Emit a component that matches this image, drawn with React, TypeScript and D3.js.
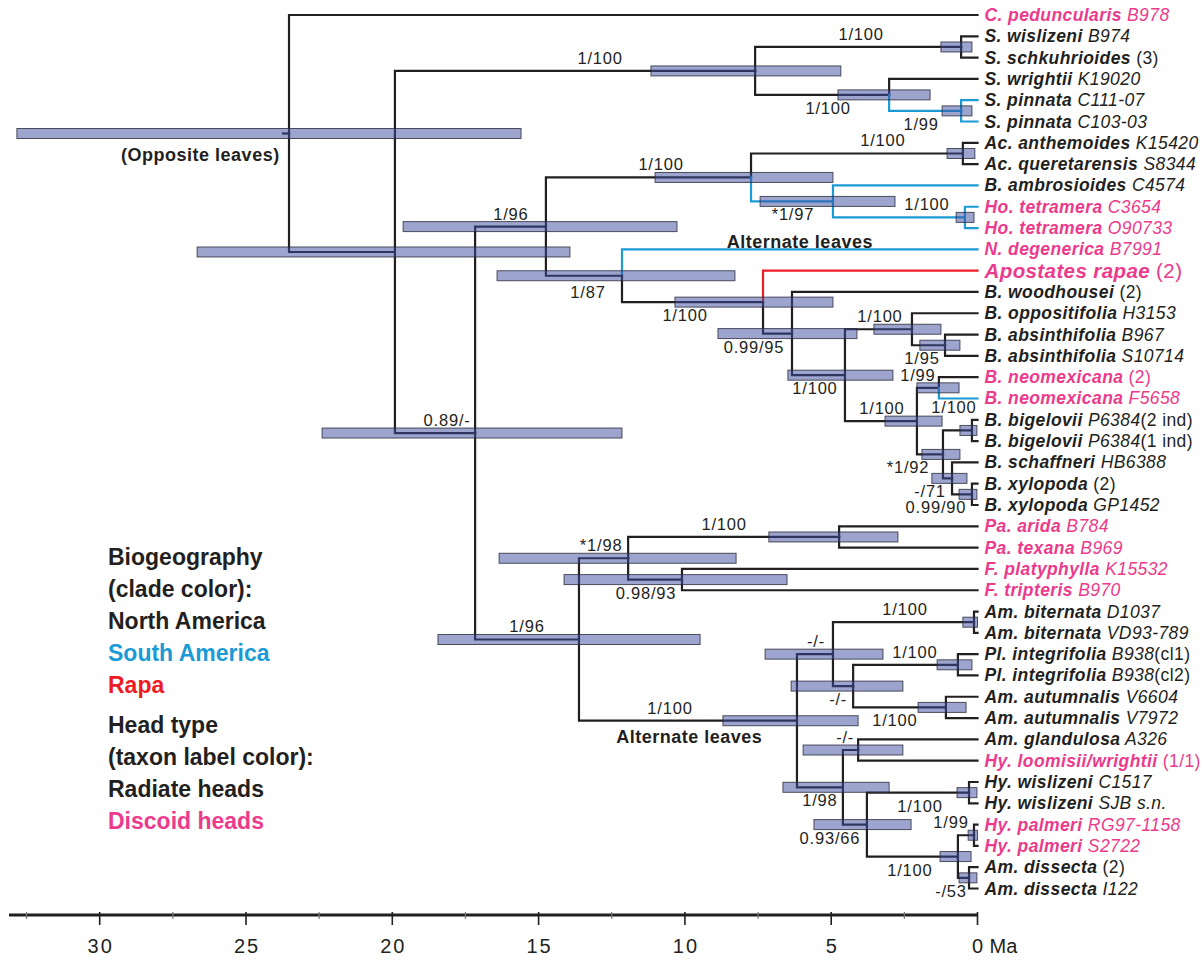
import React from 'react';
import * as d3 from 'd3';

// tips, top to bottom
const tipNames = [
  'C. peduncularis', 'S. wislizeni', 'S. schkuhrioides', 'S. wrightii', 'S. pinnata', 'S. pinnata',
  'Ac. anthemoides', 'Ac. queretarensis', 'B. ambrosioides', 'Ho. tetramera', 'Ho. tetramera',
  'N. degenerica', 'Apostates rapae', 'B. woodhousei', 'B. oppositifolia', 'B. absinthifolia',
  'B. absinthifolia', 'B. neomexicana', 'B. neomexicana', 'B. bigelovii', 'B. bigelovii',
  'B. schaffneri', 'B. xylopoda', 'B. xylopoda', 'Pa. arida', 'Pa. texana', 'F. platyphylla',
  'F. tripteris', 'Am. biternata', 'Am. biternata', 'Pl. integrifolia', 'Pl. integrifolia',
  'Am. autumnalis', 'Am. autumnalis', 'Am. glandulosa', 'Hy. loomisii/wrightii', 'Hy. wislizeni',
  'Hy. wislizeni', 'Hy. palmeri', 'Hy. palmeri', 'Am. dissecta', 'Am. dissecta',
];
const tipCodes = [
  'B978', 'B974', '', 'K19020', 'C111-07', 'C103-03', 'K15420', 'S8344', 'C4574', 'C3654', 'O90733',
  'B7991', '', '', 'H3153', 'B967', 'S10714', '', 'F5658', 'P6384', 'P6384', 'HB6388', '', 'GP1452',
  'B784', 'B969', 'K15532', 'B970', 'D1037', 'VD93-789', 'B938', 'B938', 'V6604', 'V7972', 'A326',
  '', 'C1517', 'SJB s.n.', 'RG97-1158', 'S2722', '', 'I122',
];
const tipNotes = [
  '', '', '(3)', '', '', '', '', '', '', '', '', '', '(2)', '(2)', '', '', '', '(2)', '', '(2 ind)',
  '(1 ind)', '', '(2)', '', '', '', '', '', '', '', '(cl1)', '(cl2)', '', '', '', '(1/1)', '', '', '',
  '', '(2)', '',
];
const discoidTips = [0, 9, 10, 11, 12, 17, 18, 24, 25, 26, 27, 35, 38, 39];

// internal nodes: id, children, age (Ma), 95% HPD old, young
const cladeNodes: [string, string[], number, number, number][] = [
  ['root', ['t0', 'N1'], 23.53, 32.83, 15.6],
  ['N1', ['S', 'N2'], 19.91, 26.67, 13.93],
  ['S', ['Sa', 'Sb'], 7.6, 11.16, 4.67],
  ['Sa', ['t1', 't2'], 0.56, 1.25, 0.19],
  ['Sb', ['t3', 'Sc'], 3.02, 4.77, 1.62],
  ['Sc', ['t4', 't5'], 0.56, 1.21, 0.19],
  ['N2', ['N3', 'N4'], 17.17, 22.4, 12.15],
  ['N3', ['AcB', 'N5'], 14.75, 19.63, 10.27],
  ['AcB', ['Ac', 'Bh'], 7.74, 11.02, 4.94],
  ['Ac', ['t6', 't7'], 0.5, 1.04, 0.09],
  ['Bh', ['t8', 'Ho'], 4.94, 7.43, 2.82],
  ['Ho', ['t9', 't10'], 0.43, 0.73, 0.12],
  ['N5', ['t11', 'N6'], 12.15, 16.42, 8.29],
  ['N6', ['t12', 'N7'], 7.33, 10.34, 4.94],
  ['N7', ['t13', 'N8'], 6.34, 8.87, 4.12],
  ['N8', ['N9', 'N10'], 4.53, 6.48, 2.89],
  ['N9', ['t14', 'N11'], 2.24, 3.54, 1.25],
  ['N11', ['t15', 't16'], 1.11, 1.97, 0.6],
  ['N10', ['N12', 'N13'], 2.07, 3.16, 1.21],
  ['N12', ['t17', 't18'], 1.32, 2.07, 0.63],
  ['N13', ['N14', 'N15'], 1.18, 1.9, 0.6],
  ['N14', ['t19', 't20'], 0.19, 0.6, 0.02],
  ['N15', ['t21', 'N16'], 0.87, 1.56, 0.36],
  ['N16', ['t22', 't23'], 0.19, 0.63, 0.02],
  ['N4', ['PF', 'AM'], 13.62, 18.44, 9.48],
  ['PF', ['Pa', 'F'], 11.94, 16.35, 8.25],
  ['Pa', ['t24', 't25'], 4.73, 7.13, 2.72],
  ['F', ['t26', 't27'], 10.1, 14.13, 6.51],
  ['AM', ['AM1', 'AM2'], 6.17, 8.7, 4.08],
  ['AM1', ['Amb', 'AM6'], 4.94, 7.26, 3.23],
  ['Amb', ['t28', 't29'], 0.12, 0.5, 0.0],
  ['AM6', ['Pl', 'Amaut'], 4.25, 6.37, 2.55],
  ['Pl', ['t30', 't31'], 0.67, 1.38, 0.19],
  ['Amaut', ['t32', 't33'], 1.08, 2.03, 0.39],
  ['AM2', ['AM3', 'AM4'], 4.6, 6.65, 3.02],
  ['AM3', ['t34', 't35'], 4.08, 5.96, 2.55],
  ['AM4', ['Hyw', 'AM5'], 3.78, 5.59, 2.27],
  ['Hyw', ['t36', 't37'], 0.29, 0.7, 0.02],
  ['AM5', ['Hyp', 'Amd'], 0.67, 1.28, 0.22],
  ['Hyp', ['t38', 't39'], 0.12, 0.32, 0.0],
  ['Amd', ['t40', 't41'], 0.29, 0.63, 0.02],
];

// posterior probability / bootstrap
const supports: [string, string][] = [
  ['S', '1/100'], ['Sa', '1/100'], ['Sb', '1/100'], ['Sc', '1/99'], ['N2', '0.89/-'], ['N3', '1/96'],
  ['AcB', '1/100'], ['Ac', '1/100'], ['Bh', '*1/97'], ['Ho', '1/100'], ['N5', '1/87'], ['N6', '1/100'],
  ['N7', '0.99/95'], ['N8', '1/100'], ['N9', '1/100'], ['N11', '1/95'], ['N10', '1/100'], ['N12', '1/99'],
  ['N13', '*1/92'], ['N14', '1/100'], ['N15', '-/71'], ['N16', '0.99/90'], ['N4', '1/96'], ['PF', '*1/98'],
  ['Pa', '1/100'], ['F', '0.98/93'], ['AM', '1/100'], ['AM1', '-/-'], ['Amb', '1/100'], ['AM6', '-/-'],
  ['Pl', '1/100'], ['Amaut', '1/100'], ['AM2', '1/98'], ['AM3', '-/-'], ['AM4', '0.93/66'], ['Hyw', '1/100'],
  ['AM5', '1/100'], ['Hyp', '1/99'], ['Amd', '-/53'],
];

const southAmerica = ['Sc', 't4', 't5', 'Bh', 't8', 'Ho', 't9', 't10', 't11', 't18'];
const rapa = ['t12'];

// leaf-type annotations: text, age (Ma), row
const annotations: [string, number, number, string][] = [
  ['(Opposite leaves)', 23.85, 6.85, 'end'],
  ['Alternate leaves', 6.07, 10.93, 'middle'],
  ['Alternate leaves', 9.85, 34.15, 'middle'],
];

const majorTicks = [0, 5, 10, 15, 20, 25, 30];
const minorTicks = [2.5, 7.5, 12.5, 17.5, 22.5, 27.5, 32.5];

const legendGroups = [
  ['Biogeography', '(clade color):', 'North America', 'South America', 'Rapa'],
  ['Head type', '(taxon label color):', 'Radiate heads', 'Discoid heads'],
];

// label placement: above/below branch, horizontal shift from node (px)
const place: Record<string, [string, number, number?]> = {
  S: ['a', -155], Sa: ['a', -100], Sb: ['b', -61], Sc: ['b', -40], N2: ['a', -28], N3: ['a', -35],
  AcB: ['a', -90], Ac: ['a', -80], Bh: ['b', -40], Ho: ['a', -38], N5: ['b', -34, 3], N6: ['b', -78],
  N7: ['b', -38], N8: ['b', -30], N9: ['a', -32], N11: ['b', -23], N10: ['a', -35], N12: ['a', -21],
  N13: ['b', -35], N14: ['a', -18, -10], N15: ['b', -22], N16: ['b', -36], N4: ['a', -52], PF: ['a', -27],
  Pa: ['a', -115], F: ['b', -36], AM: ['a', -127], AM1: ['a', -17], Amb: ['a', -69], AM6: ['b', -15],
  Pl: ['a', -43], Amaut: ['b', -51], AM2: ['b', -23], AM3: ['a', -13], AM4: ['b', -37], Hyw: ['b', -49],
  AM5: ['b', -48], Hyp: ['a', -23], Amd: ['b', -18],
};

const INK = '#231f20';
const BLUE = '#1b9ad6';
const RED = '#ed1c24';
const PINK = '#ec3a8c';
const FONT = '"Liberation Sans", Arial, Helvetica, sans-serif';
const NARROW = '"Liberation Sans Narrow", "Arial Narrow", ' + FONT;

export default function App() {
  const width = 1202;
  const height = 960;

  const x = d3.scaleLinear().domain([0, 30]).range([977.5, 99.7]);
  const y = d3.scaleLinear().domain([0, tipNames.length - 1]).range([15, 888.5]);
  const axisY = 915;

  const byId = new Map(cladeNodes.map(n => [n[0], n]));
  const build = (id: string): any =>
    id.startsWith('t') ? { id, tip: +id.slice(1) } : { id, children: byId.get(id)![1].map(build) };

  const root: any = d3.hierarchy(build('root'));
  // leaves sit on their row, each node midway between its first and last child
  let row = 0;
  root.eachAfter((d: any) => {
    d.row = d.children ? (d.children[0].row + d.children[d.children.length - 1].row) / 2 : row++;
  });

  const age = (d: any) => (d.data.tip !== undefined ? 0 : byId.get(d.data.id)![2]);
  const px = (d: any) => x(age(d));
  const py = (d: any) => y(d.row);
  const colour = (id: string) => (southAmerica.includes(id) ? BLUE : rapa.includes(id) ? RED : INK);

  const nodes = root.descendants();
  const internals = nodes.filter((d: any) => d.children);
  const leaves = root.leaves();
  const supportMap = new Map(supports);

  let ly = 565;
  const legendLines: { text: string; y: number }[] = [];
  legendGroups.forEach((g, gi) => {
    if (gi > 0) ly += 7.5;
    g.forEach(t => {
      legendLines.push({ text: t, y: ly });
      ly += 32;
    });
  });
  const legendColour = (t: string) =>
    t === 'South America' ? BLUE : t === 'Rapa' ? RED : t === 'Discoid heads' ? PINK : INK;

  return (
    <svg width={width} height={height} style={{ position: 'absolute', left: 0, top: 0, background: '#fff' }}
      fontFamily={FONT}>
      {/* branches */}
      <g fill="none" strokeWidth={2.2} strokeLinejoin="miter" strokeLinecap="square">
        <path d={`M${px(root) - 6},${py(root)}H${px(root)}`} stroke={INK} />
        {root.links().map((l: any) => (
          <path key={l.target.data.id}
            d={`M${px(l.source)},${py(l.source)}V${py(l.target)}H${px(l.target)}`}
            stroke={colour(l.target.data.id)} />
        ))}
      </g>

      {/* node age intervals */}
      <g>
        {internals.map((d: any) => {
          const n = byId.get(d.data.id)!;
          return (
            <rect key={d.data.id} x={x(n[3])} y={py(d) - 5} width={x(n[4]) - x(n[3])} height={10}
              fill="#3c4ba0" fillOpacity={0.5} stroke="#2a2a3a" strokeOpacity={0.8} strokeWidth={1} />
          );
        })}
      </g>

      {/* support values */}
      <g fontSize={16.5} fill={INK} textAnchor="middle" letterSpacing={0.8}>
        {internals.filter((d: any) => supportMap.has(d.data.id)).map((d: any) => {
          const [side, dx, dy = 0] = place[d.data.id] || ['a', -30];
          return (
            <text key={d.data.id} x={px(d) + dx} y={py(d) + (side === 'a' ? -7 : 19) + dy}>
              {supportMap.get(d.data.id)}
            </text>
          );
        })}
      </g>

      {/* leaf annotations */}
      <g fontSize={18} fontWeight="bold" fill={INK} letterSpacing={0.5}>
        {annotations.map(([t, a, r, anchor], i) => (
          <text key={i} x={x(a)} y={y(r)} textAnchor={anchor}>{t}</text>
        ))}
      </g>

      {/* tip labels */}
      <g letterSpacing={0.4}>
        {leaves.map((d: any) => {
          const i = d.data.tip;
          const big = i === 12;
          const fill = discoidTips.includes(i) ? PINK : INK;
          const code = tipCodes[i];
          const note = tipNotes[i];
          return (
            <text key={i} x={x(0) + 7} y={py(d) + (big ? 7 : 6)} fontSize={big ? 20.5 : 17.5} fill={fill}>
              <tspan fontWeight="bold" fontStyle="italic">{tipNames[i]}</tspan>
              {code ? <tspan fontStyle="italic">{' ' + code}</tspan> : null}
              {note ? <tspan>{(code ? '' : ' ') + note}</tspan> : null}
            </text>
          );
        })}
      </g>

      {/* time axis */}
      <g>
        <line x1={x(33.1)} x2={x(0)} y1={axisY} y2={axisY} stroke={INK} strokeWidth={3} />
        {minorTicks.map(t => (
          <line key={'m' + t} x1={x(t)} x2={x(t)} y1={axisY - 3} y2={axisY + 4} stroke="#777" strokeWidth={1.2} />
        ))}
        {majorTicks.map(t => (
          <line key={'M' + t} x1={x(t)} x2={x(t)} y1={axisY - 3} y2={axisY + 10} stroke={INK} strokeWidth={1.6} />
        ))}
        <g fontFamily={NARROW} fontSize={20} fill={INK} textAnchor="middle" letterSpacing={2}>
          {majorTicks.map(t => (
            <text key={t} x={x(t) + 1} y={axisY + 38}>{t}</text>
          ))}
        </g>
        <text x={x(0) + 12} y={axisY + 38} fontFamily={NARROW} fontSize={20} fill={INK}>Ma</text>
      </g>

      {/* legend */}
      <g fontSize={23} fontWeight="bold">
        {legendLines.map((l, i) => (
          <text key={i} x={108} y={l.y} fill={legendColour(l.text)}>{l.text}</text>
        ))}
      </g>
    </svg>
  );
}
